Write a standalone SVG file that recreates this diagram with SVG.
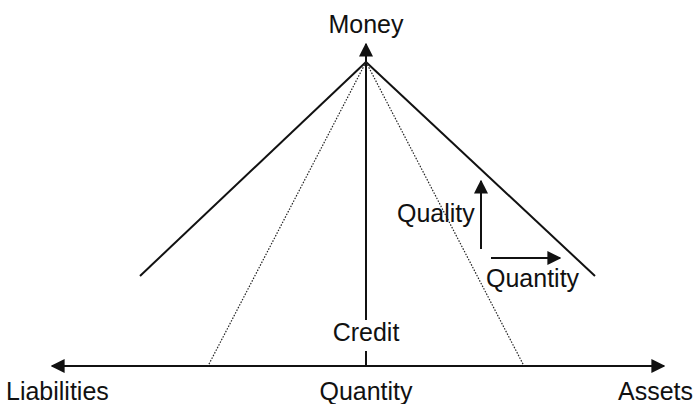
<svg xmlns="http://www.w3.org/2000/svg" width="695" height="404" viewBox="0 0 695 404">
<style>
.t{font-family:"Liberation Sans",Arial,sans-serif;font-size:25px;fill:#111}
.s{stroke:#111;stroke-width:2;fill:none}
.d{stroke:#222;stroke-width:1.2;stroke-dasharray:1.5 1.5;fill:none}
</style>
<defs>
<marker id="ab" viewBox="0 0 10 10" refX="9" refY="5" markerWidth="14" markerHeight="14" markerUnits="userSpaceOnUse" orient="auto-start-reverse"><path d="M0,0 L10,5 L0,10 z" fill="#111"/></marker>
</defs>
<g id="connectors">
<line class="s" x1="52" y1="366" x2="664" y2="366" marker-start="url(#ab)" marker-end="url(#ab)"/>
<line class="s" x1="366" y1="320" x2="366" y2="44" marker-end="url(#ab)"/>
<line class="s" x1="366" y1="351" x2="366" y2="366"/>
<line class="s" x1="366" y1="62" x2="140" y2="276"/>
<line class="s" x1="366" y1="62" x2="595" y2="276"/>
<line class="d" x1="366" y1="62" x2="208" y2="366"/>
<line class="d" x1="366" y1="62" x2="524" y2="366"/>
<line class="s" x1="481" y1="249" x2="481" y2="181" marker-end="url(#ab)"/>
<line class="s" x1="491" y1="258" x2="560" y2="258" marker-end="url(#ab)"/>
</g>
<g id="money"><text class="t" x="366" y="33" text-anchor="middle">Money</text></g>
<g id="quality"><text class="t" x="397" y="222">Quality</text></g>
<g id="quantity-arrow"><text class="t" x="486" y="287">Quantity</text></g>
<g id="credit"><text class="t" x="366" y="341" text-anchor="middle">Credit</text></g>
<g id="liabilities"><text class="t" x="6" y="400">Liabilities</text></g>
<g id="quantity"><text class="t" x="366" y="400" text-anchor="middle">Quantity</text></g>
<g id="assets"><text class="t" x="693" y="400" text-anchor="end">Assets</text></g>
</svg>
